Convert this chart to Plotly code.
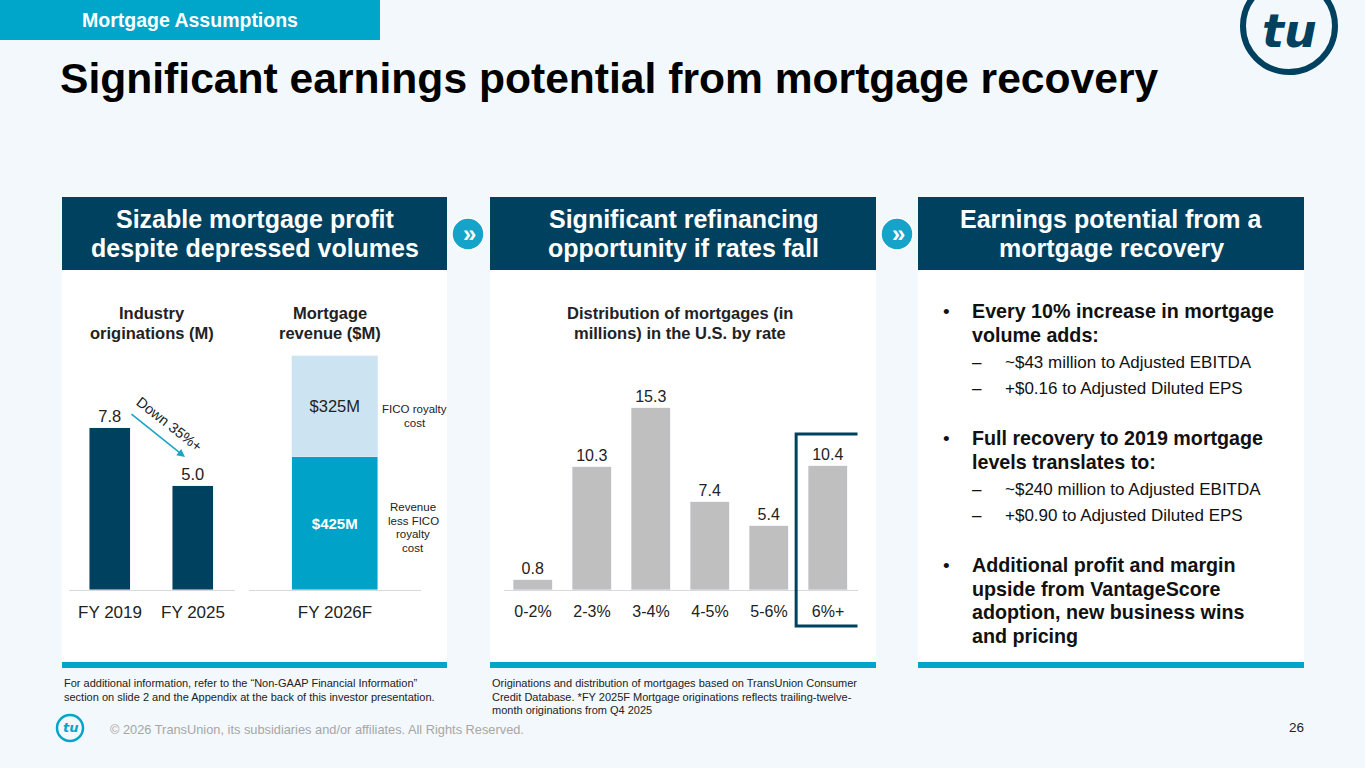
import plotly.graph_objects as go

# data
years = ["FY 2019", "FY 2025"]
originations = [7.8, 5.0]

rev_year = ["FY 2026F"]
rev_less_fico = [425]
fico_cost = [325]

rate_buckets = ["0-2%", "2-3%", "3-4%", "4-5%", "5-6%", "6%+"]
mortgages = [0.8, 10.3, 15.3, 7.4, 5.4, 10.4]

bullet_1 = ["Every 10% increase in mortgage", "volume adds:"]
subs_1 = ["~$43 million to Adjusted EBITDA", "+$0.16 to Adjusted Diluted EPS"]
bullet_2 = ["Full recovery to 2019 mortgage", "levels translates to:"]
subs_2 = ["~$240 million to Adjusted EBITDA", "+$0.90 to Adjusted Diluted EPS"]
bullet_3 = ["Additional profit and margin", "upside from VantageScore",
            "adoption, new business wins", "and pricing"]

foot_left = ["For additional information, refer to the “Non-GAAP Financial Information”",
             "section on slide 2 and the Appendix at the back of this investor presentation."]
foot_right = ["Originations and distribution of mortgages based on TransUnion Consumer",
              "Credit Database. *FY 2025F Mortgage originations reflects trailing-twelve-",
              "month originations from Q4 2025"]

W, H = 1365, 768
FONT = "Liberation Sans, Arial, sans-serif"
NARROW = "Liberation Sans Narrow, Arial Narrow, Liberation Sans, sans-serif"
NAVY = "#00415F"
TEAL = "#00A6CA"
BG = "#F3F8FC"


def px(x):
  return x / W


def py(y):
  return 1 - y / H


annotations = []


def note(x, y, text, size=12, color="#222222", xanchor="center", yanchor="middle",
         align="center", family=FONT, angle=0):
  annotations.append(dict(x=px(x), y=py(y), xref="paper", yref="paper", text=text,
                          showarrow=False, xanchor=xanchor, yanchor=yanchor, align=align,
                          textangle=angle, font=dict(family=family, size=size, color=color)))


def note_lines(x, y, lines, step, **kw):
  # one annotation per line so the line spacing follows the slide
  for i, line in enumerate(lines):
    note(x, y + i * step, line, **kw)


fig = go.Figure()

# left chart: originations
fig.add_trace(go.Bar(x=years, y=originations, width=0.5, marker_color=NAVY,
                     text=[f"{v:.1f}" for v in originations], textposition="outside",
                     textfont=dict(family=FONT, size=16.5, color="#222222"),
                     cliponaxis=False, xaxis="x", yaxis="y"))

# stacked revenue bar
fig.add_trace(go.Bar(x=rev_year, y=rev_less_fico, width=0.5, marker_color="#00A3C7",
                     text=[f"<b>${v}M</b>" for v in rev_less_fico], textposition="inside",
                     insidetextanchor="middle",
                     textfont=dict(family=FONT, size=15, color="white"),
                     xaxis="x2", yaxis="y2"))
fig.add_trace(go.Bar(x=rev_year, y=fico_cost, width=0.5, marker_color="#CCE4F1",
                     text=[f"${v}M" for v in fico_cost], textposition="inside",
                     insidetextanchor="middle",
                     textfont=dict(family=FONT, size=16.5, color="#222222"),
                     xaxis="x2", yaxis="y2"))

# distribution by rate
fig.add_trace(go.Bar(x=rate_buckets, y=mortgages, width=0.66, marker_color="#BFBFBF",
                     text=[f"{v:.1f}" for v in mortgages], textposition="outside",
                     textfont=dict(family=FONT, size=16, color="#222222"),
                     cliponaxis=False, xaxis="x3", yaxis="y3"))

base_x = dict(showline=True, linecolor="#D9D9D9", linewidth=1, showgrid=False,
              zeroline=False, ticks="outside", ticklen=7, tickcolor="rgba(0,0,0,0)",
              fixedrange=True)
base_y = dict(visible=False, showgrid=False, zeroline=False, fixedrange=True)
y_dom = [py(590), py(340)]

fig.update_layout(
  xaxis=dict(base_x, domain=[px(68.5), px(234.5)], range=[-0.5, 1.5], anchor="y",
             tickfont=dict(family=FONT, size=17, color="#222222")),
  yaxis=dict(base_y, domain=y_dom, range=[0, 250 / 20.8], anchor="x"),
  xaxis2=dict(base_x, domain=[px(249), px(421)], range=[-0.5, 0.5], anchor="y2",
              tickfont=dict(family=FONT, size=17, color="#222222")),
  yaxis2=dict(base_y, domain=y_dom, range=[0, 250 / 0.312], anchor="x2"),
  xaxis3=dict(base_x, domain=[px(503.5), px(857.5)], range=[-0.5, 5.5], anchor="y3",
              tickfont=dict(family=FONT, size=16, color="#222222")),
  yaxis3=dict(base_y, domain=y_dom, range=[0, 250 / 11.9], anchor="x3"),
  barmode="stack",
)

shapes = []


def rect(x0, y0, x1, y1, color, layer="below"):
  shapes.append(dict(type="rect", xref="paper", yref="paper", x0=px(x0), x1=px(x1),
                     y0=py(y1), y1=py(y0), fillcolor=color, line_width=0, layer=layer))


# tab + panels
rect(0, 0, 380, 40, TEAL)
panels = [(62, 447), (490, 876), (918, 1304)]
for x0, x1 in panels:
  rect(x0, 270, x1, 663, "white")
  rect(x0, 197, x1, 270, NAVY)
  rect(x0, 662, x1, 668, TEAL)

# chevron buttons between panels
for cx in [468, 897]:
  shapes.append(dict(type="circle", xref="paper", yref="paper", x0=px(cx - 16), x1=px(cx + 16),
                     y0=py(250), y1=py(218), fillcolor="#16A3C9",
                     line=dict(color="white", width=1.5), layer="above"))
  note(cx + 1, 233, "<b>»</b>", size=24, color="white")

# highlight box round 6%+
shapes.append(dict(type="rect", xref="x3", yref="paper", x0=4.46, x1=5.54,
                   y0=py(626), y1=py(434), line=dict(color=NAVY, width=3),
                   fillcolor="rgba(0,0,0,0)", layer="above"))

# logos
shapes.append(dict(type="circle", xref="paper", yref="paper", x0=px(1243), x1=px(1335),
                   y0=py(72), y1=py(-20), line=dict(color=NAVY, width=6), layer="above"))
note(1289, 31, "<b><i>tu</i></b>", size=46, color=NAVY, family="DejaVu Sans, sans-serif")
shapes.append(dict(type="circle", xref="paper", yref="paper", x0=px(57), x1=px(83),
                   y0=py(741), y1=py(715), line=dict(color=TEAL, width=2.5), layer="above"))
note(70, 727, "<b><i>tu</i></b>", size=13, color=TEAL, family="DejaVu Sans, sans-serif")

# titles
note(190, 20, "<b>Mortgage Assumptions</b>", size=19.5, color="white")
note(58, 78, "<b>Significant earnings potential from mortgage recovery</b>", size=42.6,
     color="#000000", xanchor="left")

note_lines(254.5, 219, ["<b>Sizable mortgage profit</b>", "<b>despite depressed volumes</b>"],
           29, size=25, color="white")
note_lines(683, 219, ["<b>Significant refinancing</b>", "<b>opportunity if rates fall</b>"],
           29, size=25, color="white")
note_lines(1111, 219, ["<b>Earnings potential from a</b>", "<b>mortgage recovery</b>"],
           29, size=25, color="white")

note_lines(152, 313, ["<b>Industry</b>", "<b>originations (M)</b>"], 20, size=16.5)
note_lines(330, 313, ["<b>Mortgage</b>", "<b>revenue ($M)</b>"], 20, size=16.5)
note_lines(680, 313, ["<b>Distribution of mortgages (in</b>", "<b>millions) in the U.S. by rate</b>"],
           20, size=16.5)

note_lines(415, 409, ["FICO royalty", "cost"], 14, size=11.5)
note_lines(413, 507, ["Revenue", "less FICO", "royalty", "cost"], 13.7, size=11.5)

# down arrow
annotations.append(dict(x=px(185), y=py(457), xref="paper", yref="paper", ax=-55, ay=-44,
                        showarrow=True, arrowhead=2, arrowsize=1, arrowwidth=1.6,
                        arrowcolor="#1AA5C5", text=""))
note(169, 424, "Down 35%+", size=14.5, angle=38)

# right panel bullets
y = 311
for lines, subs in [(bullet_1, subs_1), (bullet_2, subs_2), (bullet_3, [])]:
  note(946, y, "•", size=19, color="#111111")
  for line in lines:
    note(970, y, f"<b>{line}</b>", size=19.7, color="#111111", xanchor="left")
    y += 23.5
  y += 4
  for s in subs:
    note(970, y, "–", size=17, color="#111111", xanchor="left")
    note(1003, y, s, size=17, color="#111111", xanchor="left")
    y += 26.5
  y += 23

# footnotes
note_lines(62, 683, foot_left, 13.5, size=11, family=NARROW, xanchor="left", align="left")
note_lines(490, 683, foot_right, 13.5, size=11, family=NARROW, xanchor="left", align="left")
note(108, 729, "© 2026 TransUnion, its subsidiaries and/or affiliates. All Rights Reserved.",
     size=12.8, color="#A6A6A6", family=NARROW, xanchor="left")
note(1306, 727, "26", size=13.5, xanchor="right")

fig.update_layout(width=W, height=H, margin=dict(l=0, r=0, t=0, b=0),
                  paper_bgcolor=BG, plot_bgcolor="rgba(0,0,0,0)", showlegend=False,
                  shapes=shapes, annotations=annotations,
                  font=dict(family=FONT, color="#222222"), bargap=0)

fig.write_html("out.html", config={"displayModeBar": False},
               post_script="document.body.style.margin='0';")
